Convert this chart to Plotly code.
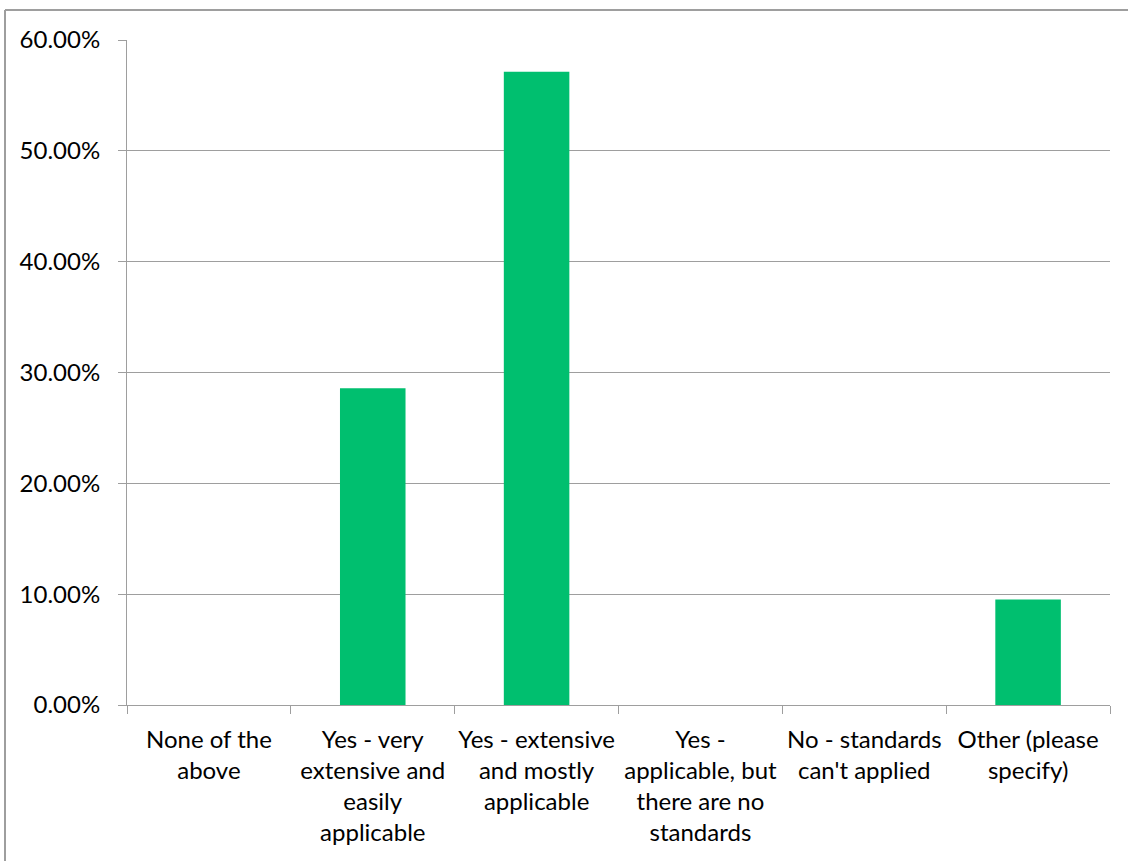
import plotly.graph_objects as go

categories = [
    "None of the<br>above",
    "Yes - very<br>extensive and<br>easily<br>applicable",
    "Yes - extensive<br>and mostly<br>applicable",
    "Yes -<br>applicable, but<br>there are no<br>standards",
    "No - standards<br>can't applied",
    "Other (please<br>specify)",
]
shares = [0.0, 0.2857, 0.5714, 0.0, 0.0, 0.0952]
y_ticks = [0, 0.1, 0.2, 0.3, 0.4, 0.5, 0.6]

W, H = 1128, 861
L, R, T, B = 127, 18, 40, 156
pw, ph = W - L - R, H - T - B

fig = go.Figure(go.Bar(
    x=categories, y=shares, width=0.4,
    marker=dict(color="#00BF6F", line=dict(width=0)),
))

grey = "#9e9e9e"
fs = 24
fig.update_layout(
    width=W, height=H,
    margin=dict(l=L, r=R, t=T, b=B, pad=0),
    paper_bgcolor="white", plot_bgcolor="white",
    font=dict(family="Lato, Open Sans, sans-serif", size=fs, color="#000000"),
    showlegend=False,
    bargap=0.6,
)
fig.update_xaxes(
    type="category", tickson="boundaries", ticks="outside", ticklen=8,
    tickcolor=grey, showline=True, linecolor=grey, linewidth=1,
    showgrid=False, tickfont=dict(size=fs), automargin=False,
    tickangle=0, ticklabelstandoff=13,
)
fig.update_yaxes(
    range=[0, 0.6], tickvals=y_ticks, tickformat=".2%", ticks="outside",
    ticklen=8, tickcolor=grey, showline=True, linecolor=grey, linewidth=1,
    showgrid=True, gridcolor=grey, gridwidth=1, zeroline=False,
    tickfont=dict(size=fs), automargin=False, ticklabelstandoff=13,
)

# chart frame: left and top edges
x0 = (5 - L) / pw
y_top = 1 + (T - 10) / ph
y_bot = 1 - (H + 5 - T) / ph
fig.add_shape(type="line", xref="paper", yref="paper", x0=x0, x1=x0,
              y0=y_bot, y1=y_top, line=dict(color=grey, width=2))
fig.add_shape(type="line", xref="paper", yref="paper", x0=x0, x1=1 + (R + 5) / pw,
              y0=y_top, y1=y_top, line=dict(color=grey, width=2))

fig.write_html("out.html")
